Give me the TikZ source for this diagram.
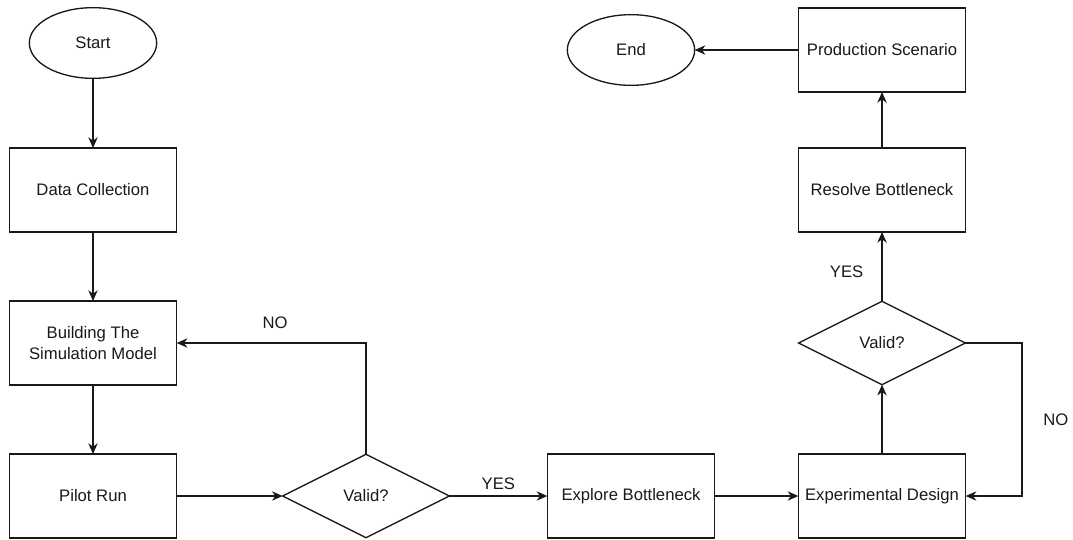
\documentclass[tikz,border=0pt]{standalone}
\usepackage{fontspec}
\setmainfont{Liberation Sans}
\usetikzlibrary{arrows.meta,shapes.geometric}
\definecolor{ink}{gray}{0.10}

\begin{document}
\begin{tikzpicture}[x=0.75pt,y=-0.75pt,
  every node/.style={inner sep=0pt,outer sep=0pt,text=ink,font=\fontsize{12.5}{14}\selectfont},
  term/.style={draw=ink,line width=1pt,ellipse,minimum width=95.5pt,minimum height=53pt},
  proc/.style={draw=ink,line width=1pt,rectangle,minimum width=125.5pt,minimum height=63pt,align=center},
  dec/.style={draw=ink,line width=1pt,diamond,aspect=2,minimum width=125pt,minimum height=62.5pt},
  lbl/.style={font=\fontsize{12.5}{14}\selectfont},
  flow/.style={draw=ink,line width=1pt,-{Stealth[length=8pt,width=7pt,inset=2.5pt]}}]
\useasboundingbox (0,0) rectangle (1073,539);

% ---- left column ---------------------------------------------------------
\node[term] (start) at (93,43) {Start};
\node[proc] (dc) at (93,190) {Data Collection};
\node[proc] (build) at (93,343) {Building The\\[2pt]Simulation Model};
\node[proc] (pilot) at (93,496) {Pilot Run};

% ---- bottom row ----------------------------------------------------------
\node[dec] (valid1) at (366,496) {Valid?};
\node[proc] (explore) at (631,496) {Explore Bottleneck};
\node[proc] (exp) at (882,496) {Experimental Design};

% ---- right column --------------------------------------------------------
\node[dec] (valid2) at (882,343) {Valid?};
\node[proc] (resolve) at (882,190) {Resolve Bottleneck};
\node[proc] (prod) at (882,50) {Production Scenario};
\node[term] (end) at (631,50) {End};
\coordinate (nobend) at (1022,343);

% ---- flow ----------------------------------------------------------------
\draw[flow] (start) -- (dc);
\draw[flow] (dc) -- (build);
\draw[flow] (build) -- (pilot);
\draw[flow] (pilot) -- (valid1);
\draw[flow] (valid1.north) |- node[lbl,pos=0.74,above=10.5pt] {NO} (build.east);
\draw[flow] (valid1) -- node[lbl,above=4.5pt] {YES} (explore);
\draw[flow] (explore) -- (exp);
\draw[flow] (exp) -- (valid2);
\draw[flow] (valid2) -- node[lbl,pos=0.43,left=14pt] {YES} (resolve);
\draw[flow] (valid2.east) -- (nobend) |- node[lbl,pos=0.25,right=16pt] {NO} (exp.east);
\draw[flow] (resolve) -- (prod);
\draw[flow] (prod) -- (end);
\end{tikzpicture}
\end{document}
